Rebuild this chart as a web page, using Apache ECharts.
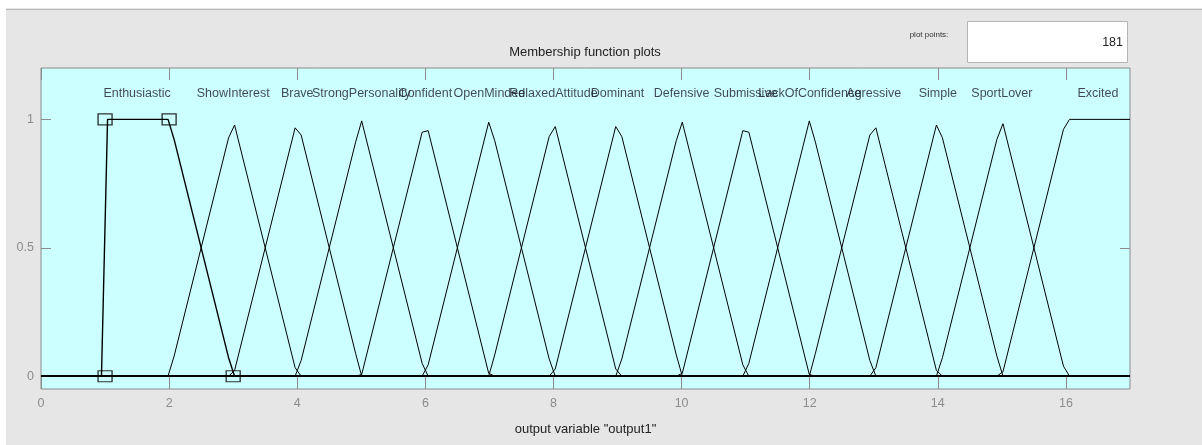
<!DOCTYPE html>
<html>
<head>
<meta charset="utf-8">
<script src="https://cdn.jsdelivr.net/npm/echarts@6/dist/echarts.min.js"></script>
<style>
html,body{margin:0;padding:0;background:#fff;}
#c{width:1202px;height:445px;}
</style>
</head>
<body>
<div id="c"></div>
<script>
// ---- Data (membership functions, sampled with 181 plot points) ----
const mfNames = ['Enthusiastic','ShowInterest','Brave','StrongPersonality','Confident','OpenMinded',
  'RelaxedAttitude','Dominant','Defensive','Submissive','LackOfConfidence','Agressive','Simple',
  'SportLover','Excited'];
const labelX = [1.5,3,4,5,6,7,8,9,10,11,12,13,14,15,16.5];
const labelLevel = 1.1;

const enthusiastic = [[0,0],[0.944,0],[1.039,1],[1.983,1],[2.078,0.922],[2.928,0.072],[3.022,0],[17,0]];
const showInterest = [[0,0],[1.983,0],[2.078,0.078],[2.928,0.928],[3.022,0.978],[3.967,0.033],[4.061,0],[17,0]];
const brave = [[0,0],[2.928,0],[3.022,0.022],[3.967,0.967],[4.061,0.939],[4.911,0.089],[5.006,0],[17,0]];
const strongPersonality = [[0,0],[3.967,0],[4.061,0.061],[4.911,0.911],[5.006,0.994],[5.950,0.050],[6.044,0],[17,0]];
const confident = [[0,0],[4.911,0],[5.006,0.006],[5.950,0.950],[6.044,0.956],[6.989,0.011],[7.083,0],[17,0]];
const openMinded = [[0,0],[5.950,0],[6.044,0.044],[6.989,0.989],[7.083,0.917],[7.933,0.067],[8.028,0],[17,0]];
const relaxedAttitude = [[0,0],[6.989,0],[7.083,0.083],[7.933,0.933],[8.028,0.972],[8.972,0.028],[9.067,0],[17,0]];
const dominant = [[0,0],[7.933,0],[8.028,0.028],[8.972,0.972],[9.067,0.933],[9.917,0.083],[10.011,0],[17,0]];
const defensive = [[0,0],[8.972,0],[9.067,0.067],[9.917,0.917],[10.011,0.989],[10.956,0.044],[11.050,0],[17,0]];
const submissive = [[0,0],[9.917,0],[10.011,0.011],[10.956,0.956],[11.050,0.950],[11.994,0.006],[12.089,0],[17,0]];
const lackOfConfidence = [[0,0],[10.956,0],[11.050,0.050],[11.994,0.994],[12.089,0.911],[12.939,0.061],[13.033,0],[17,0]];
const agressive = [[0,0],[11.994,0],[12.089,0.089],[12.939,0.939],[13.033,0.967],[13.978,0.022],[14.072,0],[17,0]];
const simple = [[0,0],[12.939,0],[13.033,0.033],[13.978,0.978],[14.072,0.928],[14.922,0.078],[15.017,0],[17,0]];
const sportLover = [[0,0],[13.978,0],[14.072,0.072],[14.922,0.922],[15.017,0.983],[15.961,0.039],[16.056,0],[17,0]];
const excited = [[0,0],[14.922,0],[15.017,0.017],[15.961,0.961],[16.056,1],[17,1]];

const mfData = [enthusiastic, showInterest, brave, strongPersonality, confident, openMinded,
  relaxedAttitude, dominant, defensive, submissive, lackOfConfidence, agressive, simple,
  sportLover, excited];

const selectedParams = [[1,0],[1,1],[2,1],[3,0]];

const xTicks = [0,2,4,6,8,10,12,14,16];
const yTicks = [0,0.5,1];
const xRange = [0,17];
const yRange = [-0.05,1.2];

const titleText = 'Membership function plots';
const xName = 'output variable "output1"';
const plotPointsLabel = 'plot points:';
const plotPointsValue = '181';

// ---- Chart ----
const FONT = '"Liberation Sans", Arial, sans-serif';
const chart = echarts.init(document.getElementById('c'), null, {renderer:'canvas'});

const series = [];
mfData.forEach((d, i) => {
  series.push({
    type:'line', name: mfNames[i], data: d, symbol:'none', silent:true,
    lineStyle:{color:'#000', width: i === 0 ? 1.4 : 1},
    z: 3, animation:false
  });
});
series.push({
  type:'scatter', data: selectedParams, symbol:'rect', symbolSize:[14,11],
  itemStyle:{color:'rgba(0,0,0,0)', borderColor:'#000', borderWidth:1.2},
  z: 5, silent:true, animation:false
});
series.push({
  type:'scatter', symbolSize:0, silent:true, animation:false, z:6,
  data: mfNames.map((n, i) => ({name:n, value:[labelX[i], labelLevel]})),
  label:{show:true, position:'inside', formatter: p => p.name, color:'#1c1c28',
         fontSize:12.5, fontFamily:FONT},
  labelLayout:{hideOverlap:false}
});

const tickColor = '#8c8c8c';
const noLine = {show:false, onZero:false};
chart.setOption({
  animation:false,
  backgroundColor:'#e6e6e6',
  grid:{left:41, right:72, top:68, bottom:56, show:true, backgroundColor:'#ccffff',
        borderColor:'#8a8a8a', borderWidth:1},
  xAxis:[{
    type:'value', min:xRange[0], max:xRange[1], position:'bottom',
    axisLine:noLine, splitLine:{show:false},
    axisTick:{inside:true, length:12, lineStyle:{color:tickColor}, customValues:xTicks},
    axisLabel:{color:'#8c8c8c', fontSize:12.5, fontFamily:FONT, margin:8, customValues:xTicks},
    name:xName, nameLocation:'middle', nameGap:34,
    nameTextStyle:{color:'#222', fontSize:13, fontFamily:FONT}
  },{
    type:'value', min:xRange[0], max:xRange[1], position:'top',
    axisLine:noLine, splitLine:{show:false},
    axisTick:{inside:true, length:12, lineStyle:{color:tickColor}, customValues:xTicks},
    axisLabel:{show:false}
  }],
  yAxis:[{
    type:'value', min:yRange[0], max:yRange[1], position:'left',
    axisLine:noLine, splitLine:{show:false},
    axisTick:{inside:true, length:10, lineStyle:{color:tickColor}, customValues:yTicks},
    axisLabel:{color:'#8c8c8c', fontSize:12.5, fontFamily:FONT, margin:7, customValues:yTicks}
  },{
    type:'value', min:yRange[0], max:yRange[1], position:'right',
    axisLine:noLine, splitLine:{show:false},
    axisTick:{inside:true, length:10, lineStyle:{color:tickColor}, customValues:yTicks},
    axisLabel:{show:false}
  }],
  graphic:[
    {type:'rect', shape:{x:0,y:0,width:1202,height:8}, style:{fill:'#ffffff'}, silent:true},
    {type:'rect', shape:{x:0,y:0,width:6,height:445}, style:{fill:'#ffffff'}, silent:true},
    {type:'line', shape:{x1:6,y1:9.5,x2:1202,y2:9.5}, style:{stroke:'#b9b9b9', lineWidth:1}, silent:true},
    {type:'text', x:585, y:52, style:{text:titleText, fill:'#222', font:'13px '+FONT,
      textAlign:'center', textVerticalAlign:'middle'}, silent:true},
    {type:'text', x:929, y:35, style:{text:plotPointsLabel, fill:'#333', font:'8px '+FONT,
      textAlign:'center', textVerticalAlign:'middle'}, silent:true},
    {type:'rect', shape:{x:967.5,y:21.5,width:160,height:41}, style:{fill:'#fff', stroke:'#b4b4b4', lineWidth:1}, silent:true},
    {type:'text', x:1123, y:43, style:{text:plotPointsValue, fill:'#222', font:'12.5px '+FONT,
      textAlign:'right', textVerticalAlign:'middle'}, silent:true}
  ],
  series: series
});
</script>
</body>
</html>
